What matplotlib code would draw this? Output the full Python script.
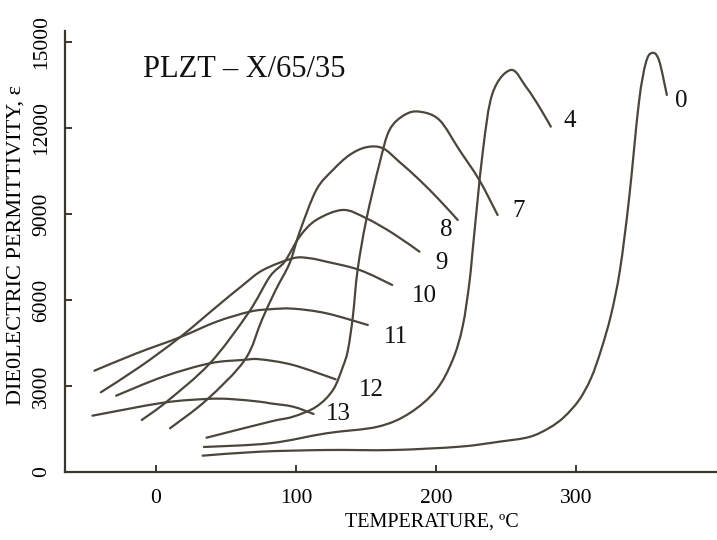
import matplotlib
matplotlib.use("Agg")
import matplotlib.pyplot as plt
from matplotlib.path import Path
from matplotlib.patches import PathPatch

plt.rcParams['font.family'] = ['Liberation Serif', 'DejaVu Serif']

# ---- data (temperature °C, permittivity) ----
c0_x = [33.3, 74.1, 121.7, 169.1, 216.7, 245.2, 266.6, 280.8, 291.5, 302.2, 310.8, 317.9, 325.0, 331.4, 337.8, 344.9, 349.8, 354.2, 359.2, 364.9]
c0_y = [569, 708, 767, 767, 882, 1057, 1221, 1535, 1918, 2511, 3279, 4255, 5476, 7046, 9487, 12871, 14255, 14615, 14371, 13150]

c4_x = [34.2, 81.3, 121.7, 158.4, 181.0, 200.1, 211.9, 219.0, 223.8, 226.2, 233.3, 240.4, 253.5, 264.2, 273.7, 282.0]
c4_y = [872, 1001, 1350, 1580, 2047, 2860, 3907, 5068, 6582, 7743, 11116, 13209, 14022, 13439, 12742, 12044]

c7_x = [36.1, 81.3, 97.9, 114.5, 126.4, 133.5, 137.1, 140.6, 144.0, 150.2, 159.7, 166.8, 177.5, 188.2, 202.4, 216.7, 230.9, 244.0]
c7_y = [1196, 1754, 1929, 2278, 2860, 3673, 4255, 5417, 7046, 8790, 10767, 11929, 12452, 12567, 12278, 11231, 10185, 8964]

c8_x = [10.0, 36.1, 63.4, 75.6, 85.5, 95.5, 102.6, 114.5, 126.4, 138.3, 150.2, 162.0, 173.9, 188.2, 202.4, 215.5]
c8_y = [1524, 2511, 3907, 5302, 6348, 7290, 8371, 9836, 10534, 11057, 11326, 11291, 10813, 10185, 9487, 8790]

c9_x = [-10.2, 7.6, 38.5, 65.8, 81.3, 91.9, 102.6, 114.5, 133.5, 150.2, 169.1, 188.2]
c9_y = [1814, 2452, 3791, 5535, 6812, 7335, 8207, 8790, 9139, 8849, 8326, 7684]

c10_x = [-39.4, -11.4, 17.1, 43.3, 62.2, 76.5, 97.9, 109.8, 121.7, 145.4, 168.7]
c10_y = [2780, 3673, 4698, 5766, 6523, 7046, 7454, 7454, 7335, 7046, 6523]

c11_x = [-44.0, -13.8, 17.1, 43.3, 67.0, 81.3, 97.9, 121.7, 151.3]
c11_y = [3533, 4140, 4698, 5243, 5591, 5675, 5696, 5535, 5127]

c12_x = [-28.5, 5.2, 38.5, 62.2, 74.1, 97.9, 128.3]
c12_y = [2661, 3324, 3791, 3907, 3931, 3732, 3233]

c13_x = [-45.4, 5.2, 36.1, 52.7, 74.1, 81.3, 97.9, 112.6]
c13_y = [1964, 2417, 2546, 2546, 2452, 2396, 2278, 2023]

curve_names = ['0', '4', '7', '8', '9', '10', '11', '12', '13']
label_x = [375.5, 295.5, 258.7, 207.6, 204.0, 192.0, 171.1, 153.7, 130.4]
label_y = [12950, 12250, 9114, 8450, 7300, 6150, 4700, 2870, 2030]

x_ticks = [0, 100, 200, 300]
y_ticks = [0, 3000, 6000, 9000, 12000, 15000]

title_text = 'PLZT – X/65/35'


def smooth_path(xs, ys):
    """Catmull-Rom through the read points, drawn as cubic Bezier segments."""
    pts = list(zip(xs, ys))
    n = len(pts)
    verts = [pts[0]]
    codes = [Path.MOVETO]
    for i in range(n - 1):
        p0 = pts[i - 1] if i > 0 else pts[i]
        p1 = pts[i]
        p2 = pts[i + 1]
        p3 = pts[i + 2] if i + 2 < n else pts[i + 1]
        c1 = (p1[0] + (p2[0] - p0[0]) / 6.0, p1[1] + (p2[1] - p0[1]) / 6.0)
        c2 = (p2[0] - (p3[0] - p1[0]) / 6.0, p2[1] - (p3[1] - p1[1]) / 6.0)
        verts += [c1, c2, p2]
        codes += [Path.CURVE4, Path.CURVE4, Path.CURVE4]
    return Path(verts, codes)


# ---- figure ----
fig = plt.figure(figsize=(7.17, 5.40), dpi=100)
ax = fig.add_axes([65/717, 68/540, 651/717, 441/540])

line_color = '#4a463c'
series = [(c0_x, c0_y), (c4_x, c4_y), (c7_x, c7_y), (c8_x, c8_y), (c9_x, c9_y),
          (c10_x, c10_y), (c11_x, c11_y), (c12_x, c12_y), (c13_x, c13_y)]
for sx, sy in series:
    ax.add_patch(PathPatch(smooth_path(sx, sy), fill=False, edgecolor=line_color,
                           lw=1.6, capstyle='round', joinstyle='round'))

for name, lx, ly in zip(curve_names, label_x, label_y):
    ax.text(lx, ly, name, fontsize=18, ha='center', va='center', color='#111111')

ax.text(-9.5, 14050, title_text, fontsize=22, ha='left', va='center', color='#111111')

ax.set_xlim(-65, 400)
ax.set_ylim(0, 15380)
ax.set_xticks(x_ticks)
ax.set_yticks(y_ticks)
ax.spines['top'].set_visible(False)
ax.spines['right'].set_visible(False)
for sp in ('left', 'bottom'):
    ax.spines[sp].set_color('#3a372f')
    ax.spines[sp].set_linewidth(1.6)
ax.tick_params(axis='both', direction='in', length=5, width=1.4, color='#3a372f', labelsize=15.5)
ax.tick_params(axis='x', pad=12)
ax.tick_params(axis='y', pad=10)
for lab in ax.get_yticklabels():
    lab.set_rotation(90)
    lab.set_va('center')

fig.text(432/717, 1 - 522/540, 'TEMPERATURE, ºC', fontsize=14.5, ha='center', va='center')
fig.text(16/717, 1 - 245/540, 'DIE0LECTRIC PERMITTIVITY, ε', fontsize=16, ha='center', va='center', rotation=90)

fig.savefig('out.png', dpi=100, facecolor='white')
